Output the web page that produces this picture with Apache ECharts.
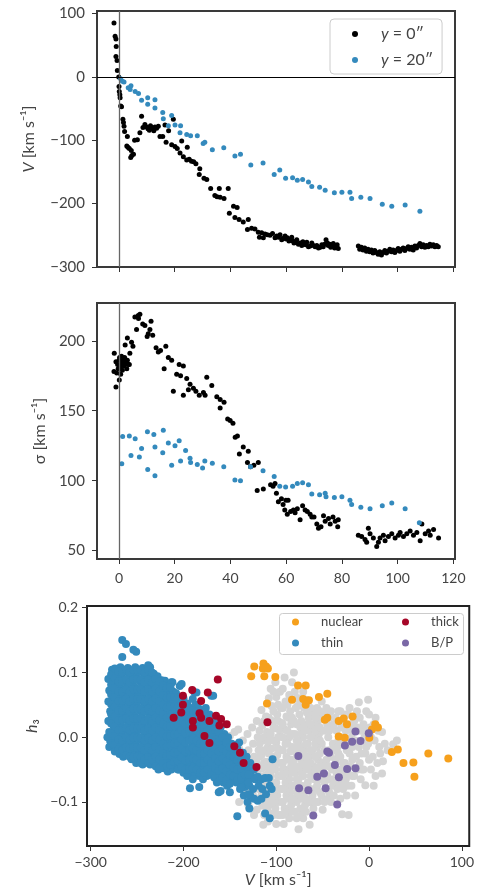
<!DOCTYPE html>
<html><head><meta charset="utf-8">
<script src="https://cdn.jsdelivr.net/npm/echarts@6/dist/echarts.min.js"></script>
<style>html,body{margin:0;padding:0;background:#fff}#c{width:477px;height:893px}</style>
</head><body><div id="c"></div>
<script>
// ---------- tick labels ----------
const xTicks = [0, 20, 40, 60, 80, 100, 120];
const vTicks = [-300, -200, -100, 0, 100];
const sigmaTicks = [50, 100, 150, 200];
const vBottomTicks = [-300, -200, -100, 0, 100];
const h3Ticks = [-0.1, 0, 0.1, 0.2];

// ---------- top panel: V vs x ----------
const velY0 = [
[-1.8,85],[-1.4,64],[-1.1,60],[-1.0,48],[-1.1,32],[-0.7,26],[-0.6,10],[-0.1,0],[0,-15],[0.1,-23],[0.3,-28],[0.4,-33],[0.6,-46],[0.9,-47],
[1.4,-67],[1.6,-72],[1.8,-78],[2.0,-86],[3.0,-94],[2.8,-109],[3.2,-111],[3.7,-113],[4.4,-116],[4.2,-127],[4.6,-124],[5.2,-122],[5.6,-100],
[6.6,-99],[7.5,-88],[8.1,-62],[8.6,-80],[9.3,-75],[9.9,-79],[10.4,-82],[10.9,-84],[11.3,-77],[11.7,-80],[12.2,-82],[12.9,-79],[12.5,-85],
[13.5,-81],[14.1,-78],[14.7,-94],[15.7,-94],[16.5,-76],[16.9,-103],[17.8,-85],[19.5,-67],[18.9,-107],[20.1,-110],[20.9,-113],[21.9,-120],
[22.5,-101],[23.1,-126],[24.5,-111],[24.3,-131],[25.2,-130],[26.0,-133],[26.8,-134],[27.6,-137],[29.0,-145],[28.8,-154],[30.5,-160],
[31.5,-162],[32.9,-176],[34.4,-187],[35.2,-189],[36.3,-190],[36.0,-176],[37.7,-192],[39.2,-176],[39.6,-215],[41.1,-204],[42.4,-206],
[41.6,-222],[43.1,-225],[44.6,-229],[46.4,-225],[46.1,-241],[47.6,-239],[48.8,-240],[50.0,-245],[50.4,-253],[51.2,-246],[52.4,-248],
[51.8,-254],[53.2,-249],[54.2,-250],[55.1,-247],[56.0,-254],[56.6,-251],
[57.2,-253],[57.8,-249],[58.4,-257],[58.8,-255],[59.6,-251],[60.0,-256],[60.4,-254],[61.0,-259],[61.4,-257],[62.0,-253],[62.4,-259],
[62.8,-262],[63.2,-261],[63.8,-257],[64.4,-264],[65.0,-262],[65.6,-266],[66.0,-260],[66.4,-263],[67.0,-265],[67.4,-261],[68.0,-268],
[68.6,-267],[69.2,-262],[69.8,-266],[70.4,-268],[71.0,-266],[71.6,-270],[72.2,-269],[72.8,-265],[73.3,-268],[73.8,-264],[74.3,-257],
[74.8,-262],[75.1,-266],[75.6,-264],[76.0,-269],[76.5,-266],[76.9,-263],[77.4,-270],[77.9,-268],[78.3,-265],[78.7,-271],
[85.9,-267],[86.4,-272],[87.0,-269],[87.6,-273],[88.2,-270],[88.8,-275],[89.4,-272],[90.0,-276],[90.6,-273],[91.2,-278],[91.8,-274],
[92.4,-277],[93.0,-280],[93.6,-276],[94.2,-281],[94.8,-277],[95.4,-274],[96.0,-278],[96.6,-275],[97.2,-272],[97.8,-276],[98.4,-273],
[99.0,-277],[99.6,-274],[100.2,-271],[100.8,-275],[101.4,-272],[102.0,-270],[102.6,-274],[103.2,-271],[103.8,-268],[104.4,-272],
[105.0,-269],[105.6,-273],[106.2,-267],[106.8,-270],[107.4,-266],[108.0,-263],[108.6,-268],[109.2,-265],[109.8,-269],[110.4,-266],
[111.0,-268],[111.6,-264],[112.2,-267],[112.8,-265],[113.4,-268],[114.0,-266],[114.6,-268]
];
const velY20 = [
[0.6,-3],[1.2,-7],[1.8,-8],[3.3,-17],[4.3,-14],[4.0,-20],[5.8,-23],[7.0,-26],[8.1,-37],[10.3,-33],[10.3,-43],[12.9,-36],[12.9,-49],
[15.7,-56],[15.9,-66],[18.9,-61],[17.7,-77],[20.1,-76],[22.1,-77],[21.9,-88],[24.3,-91],[25.7,-93],[28.1,-93],[30.2,-105],[30.8,-103],
[33.5,-115],[37.6,-112],[41.6,-125],[43.6,-122],[47.3,-139],[51.7,-136],[55.7,-154],[57.7,-147],[59.8,-160],[62.3,-159],[64.0,-163],
[65.9,-162],[68.0,-166],[69.2,-173],[72.0,-174],[74.0,-179],[77.3,-183],[80.0,-182],[82.9,-182],[83.5,-192],[86.8,-190],[90.1,-192],
[94.5,-201],[97.9,-204],[102.7,-202],[108.0,-212]
];

// ---------- middle panel: sigma vs x ----------
const sigY0 = [
[-1.7,191],[-1.1,185],[-1.8,178],[-0.8,177],[0.1,172],[-1.1,167],[-0.5,183],[0,186],[0.4,181],[0.8,184],[1.2,179],[1.5,186],[0.2,188],
[0.9,189],[1.8,182],[2.3,185],[2.8,180],[-0.3,180],[0.6,176],[1.0,183],[2.0,188],[2.6,184],[3.3,183],[2.2,197],[3.0,202],[3.9,191],
[4.5,199],[5.0,196],[3.7,183],[3.0,186],[5.7,217],[6.9,218],[7.5,219],[6.3,208],[7.0,216],[8.5,212],[9.3,211],[11.5,214],[10.5,205],
[11.1,208],[12.1,204],[10.1,203],[13.3,195],[14.1,192],[14.9,193],[16.8,196],[16.2,180],[17.7,188],[18.9,186],[19.5,164],[21.6,183],
[23.1,182],[20.7,176],[22.1,175],[24.3,173],[23.1,161],[25.5,169],[24.9,165],[26.7,166],[27.6,164],[28.8,161],[30.3,163],[31.5,174],
[30.9,161],[33.3,168],[35.1,160],[36.3,158],[36.3,152],[37.7,156],[39.0,144],[39.9,143],[40.9,141],[41.7,131],[42.5,132],[43.2,119],
[44.6,124],[46.4,121],[46.1,113],[47.2,110],[48.4,111],[50.0,113],[49.6,93],[51.8,94],[54.4,97],[55.3,96],[56.0,98],[56.5,91],[57.2,85],
[58.3,87],[58.9,83],[59.9,86],[60.7,86],[59.5,79],[60.4,76],[61.6,78],[62.6,79],[63.2,77],[64.0,80],[65.0,72],[65.9,82],[66.8,79],
[67.6,78],[68.6,76],[69.2,74],[70.0,74],[71.0,69],[71.6,66],[72.5,67],[73.4,75],[74.0,71],[75.2,73],[75.8,69],[76.8,74],[77.6,71],
[78.5,67],[78.7,72],
[85.9,61],[87.1,60],[88.3,58],[89.5,66],[90.1,62],[88.9,56],[91.3,59],[92.5,53],[93.1,56],[93.7,59],[94.9,61],[95.5,57],[96.7,60],
[97.9,62],[99.1,59],[100.3,61],[100.9,63],[102.1,60],[103.3,62],[104.5,64],[105.7,61],[106.9,63],[108.1,57],[108.7,69],[109.9,62],
[111.1,64],[111.7,61],[112.9,65],[114.7,59]
];
const sigY20 = [
[1.0,112],[1.3,131.5],[3.7,132],[4.3,118],[5.8,130],[7.3,117],[8.1,123],[10.2,135],[10.3,108],[12.5,133],[12.9,124],[12.9,103.5],
[15.9,136],[15.7,120],[17.7,127],[18.9,111],[20.1,125],[21.6,128.5],[22.1,114],[23.9,121.5],[25.5,116],[25.7,113],[28.1,111.5],
[30.0,109],[30.8,114],[33.5,112.5],[37.6,110],[41.6,100.5],[43.6,100],[47.2,110],[51.7,107],[55.7,103],[57.7,96],[59.8,95.5],
[62.3,96],[64.0,98],[65.9,98.5],[68.0,97],[69.2,90.5],[72.0,90],[74.0,91],[74.3,88.5],[77.3,88],[80.0,88.5],[82.9,86],[83.5,83],
[86.8,81],[90.1,80],[94.5,82],[97.9,84],[102.7,80],[107.8,70]
];

// ---------- bottom panel: h3 vs V ----------
const others = [
[-152,-0.015],[-150,0.002],[-146,-0.03],[-145,0.008],[-147,-0.048],[-141,0.012],[-140,-0.018],[-139,-0.058],[-140,-0.1],
[-136,-0.005],[-135,-0.035],[-134,-0.05],[-136,-0.072],[-131,0.005],[-130,-0.02],[-129,-0.045],[-131,-0.085],[-130,-0.105],
[-126,0.015],[-125,-0.01],[-124,-0.03],[-126,-0.06],[-125,-0.09],[-124,-0.12],[-121,0.025],[-120,0.0],[-119,-0.02],[-121,-0.04],
[-120,-0.055],[-119,-0.08],[-121,-0.112],[-116,0.042],[-115,0.018],[-114,-0.005],[-116,-0.028],[-115,-0.048],[-114,-0.068],
[-116,-0.09],[-115,-0.106],[-114,-0.135],[-111,0.032],[-110,0.008],[-109,-0.015],[-111,-0.038],[-110,-0.058],[-109,-0.078],
[-111,-0.098],[-110,-0.112],[-109,-0.13],[-106,0.075],[-105,0.048],[-104,0.025],[-106,0.005],[-105,-0.018],[-104,-0.04],
[-106,-0.06],[-105,-0.08],[-104,-0.1],[-106,-0.118],[-101,0.085],[-100,0.062],[-99,0.035],[-101,0.014],[-100,-0.008],[-99,-0.028],
[-101,-0.05],[-100,-0.07],[-99,-0.09],[-101,-0.11],[-100,-0.134],[-96,0.07],[-95,0.045],[-94,0.022],[-96,0.002],[-95,-0.02],
[-94,-0.04],[-96,-0.06],[-95,-0.08],[-94,-0.1],[-96,-0.12],[-91,0.092],[-90,0.055],[-89,0.032],[-91,0.012],[-90,-0.01],[-89,-0.03],
[-91,-0.05],[-90,-0.07],[-89,-0.09],[-91,-0.11],[-92,-0.134],[-86,0.065],[-85,0.04],[-84,0.02],[-86,0.0],[-85,-0.022],[-84,-0.045],
[-86,-0.065],[-85,-0.085],[-84,-0.105],[-86,-0.125],[-81,0.1],[-80,0.07],[-79,0.045],[-81,0.025],[-80,0.005],[-79,-0.015],
[-81,-0.035],[-80,-0.055],[-79,-0.075],[-81,-0.095],[-80,-0.115],[-76,0.06],[-75,0.035],[-74,0.015],[-76,-0.005],[-75,-0.025],
[-74,-0.045],[-76,-0.065],[-75,-0.09],[-74,-0.11],[-76,-0.142],[-71,0.07],[-70,0.045],[-69,0.02],[-71,0.0],[-70,-0.02],[-69,-0.04],
[-71,-0.06],[-70,-0.085],[-69,-0.105],[-71,-0.125],[-66,0.05],[-65,0.03],[-64,0.01],[-66,-0.01],[-65,-0.03],[-64,-0.05],[-66,-0.07],
[-65,-0.1],[-64,-0.135],[-61,0.04],[-60,0.02],[-59,0.0],[-61,-0.02],[-60,-0.045],[-59,-0.065],[-61,-0.09],[-60,-0.11],[-56,0.045],
[-55,0.025],[-54,0.005],[-56,-0.015],[-55,-0.035],[-54,-0.05],[-56,-0.075],[-55,-0.1],[-51,0.055],[-50,0.03],[-49,0.01],[-51,-0.01],
[-50,-0.04],[-49,-0.065],[-51,-0.09],[-50,-0.112],[-46,0.045],[-45,0.02],[-44,0.0],[-46,-0.035],[-45,-0.06],[-44,-0.095],[-41,0.04],
[-40,0.015],[-39,-0.01],[-41,-0.03],[-40,-0.05],[-39,-0.075],[-41,-0.1],[-36,0.03],[-35,0.01],[-34,-0.015],[-36,-0.035],[-35,-0.055],
[-34,-0.08],[-31,0.04],[-30,0.015],[-29,-0.01],[-31,-0.03],[-30,-0.05],[-29,-0.07],[-31,-0.095],[-29,-0.119],[-26,0.035],[-25,0.01],
[-24,-0.02],[-26,-0.04],[-25,-0.065],[-24,-0.09],[-21,0.045],[-20,0.02],[-19,0.0],[-21,-0.025],[-20,-0.045],[-19,-0.075],[-22,-0.12],
[-16,0.025],[-15,-0.005],[-14,-0.03],[-16,-0.06],[-15,-0.09],[-11,0.054],[-10,0.03],[-9,0.01],[-11,-0.015],[-10,-0.04],[-9,-0.065],
[-6,0.02],[-5,0.0],[-4,-0.025],[-6,-0.05],[-4,-0.074],[-1,0.058],[0,0.035],[1,0.015],[-1,-0.01],[0,-0.035],[5,0.02],[6,-0.005],
[4,-0.03],[5,-0.075],[10,0.01],[11,-0.015],[9,-0.04],[14,0.008],[15,-0.037],[14,-0.056],[20,-0.02],[26,-0.011],
[-108,0.03],[-97,0.012],[-87,0.03],[-77,0.048],[-67,0.038],[-57,0.035],[-103,-0.03],[-93,-0.05],[-83,-0.035],[-73,-0.055],
[-63,-0.04],[-53,-0.025],[-113,-0.06],[-98,-0.1],[-88,-0.08],[-78,-0.1],[-68,-0.075],[-58,-0.08],[-118,-0.045],[-43,-0.02]
];
// further points of the unassigned (grey) population in its crowded core
const othersCore = [
[-118,0.01],[-118,-0.01],[-118,-0.03],[-118,-0.07],[-118,-0.095],
[-113,0.025],[-113,0.0],[-113,-0.02],[-113,-0.04],[-113,-0.08],[-113,-0.12],
[-108,0.06],[-108,-0.005],[-108,-0.025],[-108,-0.048],[-108,-0.068],[-108,-0.09],[-108,-0.105],
[-103,0.07],[-103,0.04],[-103,0.015],[-103,-0.005],[-103,-0.05],[-103,-0.07],[-103,-0.09],[-103,-0.12],
[-98,0.05],[-98,0.025],[-98,0.0],[-98,-0.018],[-98,-0.04],[-98,-0.06],[-98,-0.08],[-98,-0.12],
[-93,0.075],[-93,0.045],[-93,0.02],[-93,0.0],[-93,-0.02],[-93,-0.04],[-93,-0.06],[-93,-0.08],[-93,-0.1],[-93,-0.12],
[-88,0.05],[-88,0.01],[-88,-0.01],[-88,-0.035],[-88,-0.055],[-88,-0.095],[-88,-0.115],
[-83,0.085],[-83,0.03],[-83,0.005],[-83,-0.015],[-83,-0.055],[-83,-0.075],[-83,-0.095],[-83,-0.115],
[-78,0.06],[-78,0.02],[-78,-0.005],[-78,-0.025],[-78,-0.045],[-78,-0.065],[-78,-0.085],[-78,-0.125],
[-73,0.05],[-73,0.025],[-73,0.005],[-73,-0.015],[-73,-0.035],[-73,-0.075],[-73,-0.095],[-73,-0.12],
[-68,0.058],[-68,0.01],[-68,-0.01],[-68,-0.03],[-68,-0.05],[-68,-0.095],[-68,-0.115],
[-63,0.045],[-63,0.02],[-63,0.0],[-63,-0.02],[-63,-0.06],[-63,-0.08],[-63,-0.1],
[-58,0.03],[-58,0.01],[-58,-0.01],[-58,-0.03],[-58,-0.055],[-58,-0.1],
[-53,0.04],[-53,0.015],[-53,-0.005],[-53,-0.045],[-53,-0.065],[-53,-0.085],
[-48,0.035],[-48,-0.02],[-48,-0.045],[-48,-0.07],[-48,-0.1],
[-43,0.03],[-43,0.01],[-43,-0.045],[-43,-0.065],[-43,-0.085],
[-38,0.02],[-38,-0.02],[-38,-0.045],[-38,-0.065],[-38,-0.09],
[-33,0.04],[-33,-0.005],[-33,-0.025],[-33,-0.07],
[-28,0.02],[-28,0.0],[-28,-0.04],[-28,-0.06],[-28,-0.08],
[-23,0.035],[-23,-0.005],[-23,-0.055],[-23,-0.075],
[-18,0.01],[-18,-0.015],[-18,-0.035],[-18,-0.06],
[-13,0.04],[-13,0.015],[-13,-0.05],
[-8,-0.025],[-8,-0.05],[-3,0.04],[-3,0.01],[-3,-0.015],[2,0.0],[2,-0.05],[7,0.03],[7,-0.06],[12,-0.025],[17,-0.01],[30,-0.005]
];
const thin = [
[-281,0.09],[-280,0.072],[-281,0.055],[-279,0.04],[-281,0.025],[-280,0.008],[-279,-0.006],[-282,0.0],[-280,-0.015],
[-277,0.104],[-276,0.088],[-277,0.074],[-275,0.06],[-276,0.046],[-277,0.031],[-275,0.016],[-276,0.0],[-275,-0.014],
[-272,0.098],[-273,0.083],[-271,0.069],[-272,0.055],[-273,0.039],[-271,0.024],[-272,0.01],[-273,-0.006],[-271,-0.02],
[-268,0.108],[-267,0.094],[-269,0.078],[-268,0.063],[-267,0.049],[-269,0.033],[-268,0.018],[-267,0.003],[-268,-0.012],[-269,-0.026],
[-264,0.101],[-263,0.086],[-265,0.071],[-264,0.057],[-263,0.041],[-265,0.027],[-264,0.011],[-263,-0.004],[-264,-0.018],[-265,-0.03],
[-260,0.107],[-259,0.092],[-261,0.078],[-260,0.064],[-259,0.048],[-261,0.034],[-260,0.018],[-259,0.003],[-260,-0.012],[-261,-0.025],
[-256,0.1],[-255,0.085],[-257,0.07],[-256,0.055],[-255,0.04],[-257,0.025],[-256,0.01],[-255,-0.005],[-256,-0.02],[-256,-0.034],
[-252,0.108],[-251,0.093],[-253,0.078],[-252,0.063],[-251,0.048],[-253,0.033],[-252,0.018],[-251,0.003],[-252,-0.012],[-253,-0.027],[-251,-0.04],
[-248,0.101],[-247,0.086],[-249,0.071],[-248,0.056],[-247,0.041],[-249,0.026],[-248,0.011],[-247,-0.004],[-248,-0.019],[-249,-0.033],
[-244,0.107],[-243,0.092],[-245,0.077],[-244,0.062],[-243,0.047],[-245,0.032],[-244,0.017],[-243,0.002],[-244,-0.013],[-245,-0.028],[-244,-0.042],
[-240,0.1],[-239,0.085],[-241,0.07],[-240,0.055],[-239,0.04],[-241,0.025],[-240,0.01],[-239,-0.005],[-240,-0.02],[-241,-0.035],
[-236,0.108],[-235,0.092],[-237,0.077],[-236,0.062],[-235,0.047],[-237,0.032],[-236,0.017],[-235,0.002],[-236,-0.013],[-237,-0.028],[-236,-0.042],
[-232,0.098],[-231,0.083],[-233,0.068],[-232,0.053],[-231,0.038],[-233,0.023],[-232,0.008],[-231,-0.007],[-232,-0.022],[-233,-0.036],
[-228,0.094],[-227,0.079],[-229,0.064],[-228,0.049],[-227,0.034],[-229,0.019],[-228,0.004],[-227,-0.011],[-228,-0.026],[-229,-0.04],[-227,-0.05],
[-224,0.088],[-223,0.073],[-225,0.058],[-224,0.043],[-223,0.028],[-225,0.013],[-224,-0.002],[-223,-0.017],[-224,-0.032],[-225,-0.046],
[-220,0.087],[-219,0.072],[-221,0.057],[-220,0.042],[-219,0.027],[-221,0.012],[-220,-0.003],[-219,-0.018],[-220,-0.033],[-221,-0.048],
[-216,0.08],[-215,0.065],[-217,0.05],[-216,0.035],[-215,0.02],[-217,0.005],[-216,-0.01],[-215,-0.025],[-216,-0.04],[-217,-0.053],
[-212,0.085],[-211,0.07],[-213,0.055],[-212,0.04],[-211,0.025],[-213,0.01],[-212,-0.005],[-211,-0.02],[-212,-0.035],[-213,-0.05],
[-208,0.068],[-207,0.054],[-209,0.04],[-208,0.026],[-207,0.012],[-209,-0.002],[-208,-0.016],[-207,-0.03],[-208,-0.044],
[-204,0.079],[-203,0.062],[-205,0.048],[-204,0.034],[-203,0.02],[-205,0.006],[-204,-0.008],[-203,-0.022],[-204,-0.036],[-205,-0.05],
[-200,0.06],[-199,0.045],[-201,0.03],[-200,0.016],[-199,0.002],[-201,-0.012],[-200,-0.026],[-199,-0.04],[-200,-0.055],
[-196,0.052],[-195,0.038],[-197,0.024],[-196,0.01],[-195,-0.004],[-197,-0.018],[-196,-0.032],[-195,-0.046],[-196,-0.06],
[-192,0.045],[-191,0.03],[-193,0.015],[-192,0.0],[-191,-0.015],[-193,-0.03],[-192,-0.045],[-191,-0.06],[-193,-0.079],
[-188,0.069],[-187,0.05],[-189,0.035],[-188,0.02],[-187,0.005],[-189,-0.01],[-188,-0.025],[-187,-0.04],[-188,-0.055],
[-184,0.045],[-183,0.03],[-185,0.015],[-184,0.0],[-183,-0.015],[-185,-0.03],[-184,-0.045],[-183,-0.06],[-183,-0.077],
[-180,0.04],[-179,0.025],[-181,0.01],[-180,-0.005],[-179,-0.02],[-181,-0.035],[-180,-0.05],[-179,-0.065],
[-176,0.045],[-175,0.03],[-177,0.015],[-176,0.0],[-175,-0.015],[-177,-0.03],[-176,-0.045],[-175,-0.06],
[-172,0.035],[-171,0.02],[-173,0.005],[-172,-0.01],[-171,-0.025],[-173,-0.04],[-172,-0.058],
[-168,0.064],[-167,0.03],[-169,0.013],[-168,-0.002],[-167,-0.017],[-169,-0.032],[-168,-0.047],[-167,-0.062],
[-164,0.02],[-163,0.005],[-165,-0.01],[-164,-0.025],[-163,-0.04],[-165,-0.055],[-164,-0.07],[-162,-0.085],
[-160,0.015],[-159,0.0],[-161,-0.015],[-160,-0.03],[-159,-0.045],[-161,-0.061],[-160,-0.083],
[-156,0.005],[-155,-0.01],[-157,-0.025],[-156,-0.04],[-155,-0.055],[-157,-0.07],
[-152,0.0],[-151,-0.015],[-153,-0.03],[-152,-0.045],[-151,-0.06],[-153,-0.075],
[-148,-0.01],[-147,-0.02],[-149,-0.035],[-148,-0.05],[-147,-0.065],[-150,-0.085],
[-144,-0.012],[-143,-0.025],[-145,-0.04],[-144,-0.055],[-143,-0.07],
[-140,-0.008],[-139,-0.03],[-141,-0.045],[-140,-0.063],[-139,-0.08],[-142,-0.122],
[-136,-0.024],[-135,-0.04],[-137,-0.055],[-136,-0.07],[-135,-0.09],
[-132,-0.03],[-131,-0.05],[-133,-0.065],[-134,-0.077],[-131,-0.1],
[-128,-0.04],[-127,-0.06],[-129,-0.075],[-128,-0.09],[-129,-0.11],
[-124,-0.05],[-123,-0.065],[-125,-0.08],[-124,-0.095],
[-120,-0.061],[-119,-0.075],[-120,-0.098],[-116,-0.065],[-115,-0.08],[-116,-0.095],
[-112,-0.063],[-111,-0.088],[-112,-0.118],[-108,-0.063],[-107,-0.075],[-107,-0.125],[-104,-0.034],[-105,-0.08],
[-266,0.15],[-262,0.144],[-251,0.132],[-266,0.124],[-254,0.135],[-238,0.111],[-222,0.087],[-213,0.085],[-209,0.054],
[-190,0.059],[-186,0.069],[-170,0.064],[-202,0.082]
];
// further thin-disc points in the crowded core of the cloud
const thinCore = [
[-278,0.097],[-278,0.081],[-278,0.066],[-278,0.051],[-278,0.036],[-278,0.021],[-278,0.006],[-278,-0.009],
[-274,0.106],[-274,0.091],[-274,0.076],[-274,0.062],[-274,0.047],[-274,0.032],[-274,0.017],[-274,0.002],[-274,-0.012],[-274,-0.022],
[-270,0.101],[-270,0.086],[-270,0.071],[-270,0.056],[-270,0.041],[-270,0.026],[-270,0.011],[-270,-0.004],[-270,-0.019],
[-266,0.1],[-266,0.086],[-266,0.07],[-266,0.056],[-266,0.041],[-266,0.026],[-266,0.011],[-266,-0.005],[-266,-0.02],
[-262,0.104],[-262,0.089],[-262,0.074],[-262,0.059],[-262,0.044],[-262,0.029],[-262,0.014],[-262,-0.001],[-262,-0.016],[-262,-0.028],
[-258,0.1],[-258,0.085],[-258,0.07],[-258,0.055],[-258,0.04],[-258,0.026],[-258,0.011],[-258,-0.004],[-258,-0.018],[-258,-0.03],
[-254,0.104],[-254,0.089],[-254,0.074],[-254,0.059],[-254,0.044],[-254,0.029],[-254,0.014],[-254,-0.001],[-254,-0.016],[-254,-0.031],
[-250,0.104],[-250,0.089],[-250,0.074],[-250,0.059],[-250,0.044],[-250,0.029],[-250,0.014],[-250,-0.001],[-250,-0.016],[-250,-0.03],
[-246,0.104],[-246,0.089],[-246,0.074],[-246,0.059],[-246,0.044],[-246,0.029],[-246,0.014],[-246,-0.001],[-246,-0.016],[-246,-0.031],[-246,-0.04],
[-242,0.1],[-242,0.085],[-242,0.07],[-242,0.055],[-242,0.04],[-242,0.025],[-242,0.01],[-242,-0.005],[-242,-0.02],[-242,-0.035],
[-238,0.104],[-238,0.089],[-238,0.074],[-238,0.059],[-238,0.044],[-238,0.029],[-238,0.014],[-238,-0.001],[-238,-0.016],[-238,-0.031],[-238,-0.04],
[-234,0.1],[-234,0.085],[-234,0.07],[-234,0.055],[-234,0.04],[-234,0.025],[-234,0.01],[-234,-0.005],[-234,-0.02],[-234,-0.035],
[-230,0.09],[-230,0.075],[-230,0.06],[-230,0.045],[-230,0.03],[-230,0.015],[-230,0.0],[-230,-0.015],[-230,-0.03],[-230,-0.045],
[-226,0.086],[-226,0.071],[-226,0.056],[-226,0.041],[-226,0.026],[-226,0.011],[-226,-0.004],[-226,-0.019],[-226,-0.034],[-226,-0.048],
[-222,0.08],[-222,0.065],[-222,0.05],[-222,0.035],[-222,0.02],[-222,0.005],[-222,-0.01],[-222,-0.025],[-222,-0.04],
[-218,0.076],[-218,0.061],[-218,0.046],[-218,0.031],[-218,0.016],[-218,0.001],[-218,-0.014],[-218,-0.029],[-218,-0.045],
[-214,0.077],[-214,0.062],[-214,0.047],[-214,0.032],[-214,0.017],[-214,0.002],[-214,-0.013],[-214,-0.028],[-214,-0.043],
[-210,0.062],[-210,0.047],[-210,0.032],[-210,0.018],[-210,0.004],[-210,-0.01],[-210,-0.024],[-210,-0.038],
[-206,0.061],[-206,0.047],[-206,0.033],[-206,0.019],[-206,0.005],[-206,-0.009],[-206,-0.023],[-206,-0.037],[-206,-0.05],
[-202,0.053],[-202,0.039],[-202,0.025],[-202,0.011],[-202,-0.003],[-202,-0.017],[-202,-0.031],[-202,-0.046],
[-198,0.049],[-198,0.034],[-198,0.02],[-198,0.006],[-198,-0.008],[-198,-0.022],[-198,-0.036],[-198,-0.05],
[-194,0.04],[-194,0.025],[-194,0.01],[-194,-0.005],[-194,-0.02],[-194,-0.035],[-194,-0.05],
[-190,0.042],[-190,0.027],[-190,0.012],[-190,-0.003],[-190,-0.018],[-190,-0.033],[-190,-0.048],[-190,-0.065],
[-186,0.04],[-186,0.025],[-186,0.01],[-186,-0.005],[-186,-0.02],[-186,-0.035],[-186,-0.05],
[-182,0.035],[-182,0.02],[-182,0.005],[-182,-0.01],[-182,-0.025],[-182,-0.04],[-182,-0.055],
[-178,0.035],[-178,0.02],[-178,0.005],[-178,-0.01],[-178,-0.025],[-178,-0.04],[-178,-0.055],
[-174,0.025],[-174,0.01],[-174,-0.005],[-174,-0.02],[-174,-0.035],[-174,-0.05],
[-170,0.022],[-170,0.005],[-170,-0.01],[-170,-0.025],[-170,-0.04],[-170,-0.055],
[-166,0.012],[-166,-0.003],[-166,-0.018],[-166,-0.033],[-166,-0.048],[-166,-0.063],
[-162,0.008],[-162,-0.007],[-162,-0.022],[-162,-0.037],[-162,-0.052],[-162,-0.068],
[-158,0.0],[-158,-0.018],[-158,-0.033],[-158,-0.048],[-158,-0.062],
[-154,-0.008],[-154,-0.022],[-154,-0.037],[-154,-0.052],[-154,-0.067],
[-150,-0.015],[-150,-0.028],[-150,-0.043],[-150,-0.058],[-150,-0.072],
[-146,-0.03],[-146,-0.047],[-146,-0.06],[-142,-0.018],[-142,-0.035],[-142,-0.05],[-142,-0.066],
[-138,-0.035],[-138,-0.048],[-138,-0.063],[-138,-0.078],[-134,-0.042],[-134,-0.058],[-130,-0.058],[-130,-0.07],[-130,-0.088]
];
const thick = [
[-163,0.089],[-190.6,0.073],[-200.6,0.064],[-173.8,0.069],[-181,0.056],[-200.6,0.05],[-202.4,0.038],[-210.6,0.03],[-182.7,0.037],
[-189.9,0.025],[-181,0.03],[-172,0.025],[-164.9,0.033],[-159.5,0.028],[-161.3,0.018],[-153.4,0.02],[-189.9,0.015],[-177.4,0.002],
[-172,-0.009],[-145.2,-0.014],[-139.1,-0.024],[-135.2,-0.04],[-121.3,-0.046],[-109.5,0.023]
];
const nuclear = [
[-123.7,0.109],[-127,0.094],[-113.8,0.114],[-111,0.109],[-114.5,0.106],[-109,0.106],[-112.9,0.094],[-101,0.093],[-110,0.052],
[-76.5,0.08],[-68.3,0.08],[-83,0.058],[-71,0.059],[-64.8,0.057],[-68.3,0.05],[-54,0.062],[-45,0.067],[-45,0.03],[-47.7,0.027],
[-32.7,0.025],[-27.3,0.029],[-17.7,0.032],[-23.8,0.02],[-32.7,0.001],[-26.2,-0.001],[0.3,-0.001],[3.1,0.012],[6.7,0.02],[9.6,0.015],
[24.6,-0.023],[31,-0.019],[37.1,-0.04],[47.8,-0.039],[63.9,-0.025],[85.4,-0.033],[48.9,-0.061]
];
const bp = [
[-14.6,0.009],[-0.3,0.006],[-18.2,-0.007],[-9.2,-0.006],[-26,-0.013],[-45,-0.022],[-43.2,-0.024],[-76.2,-0.029],[-36.8,-0.043],
[-23.6,-0.049],[-14.6,-0.048],[-48.6,-0.056],[-55.8,-0.061],[-32.5,-0.062],[-75.4,-0.079],[-65.4,-0.082],[-46.8,-0.079],
[-34.3,-0.104],[-60.1,-0.121]
];

// ---------- styling ----------
const FONT = 'Lato';
const TXT = '#444';
const BLUE = '#348ABD';
const minusFmt = v => String(v).replace('-', '\u2212');
const oneDec = v => (Math.abs(v) < 1e-9 ? '0.0' : v.toFixed(1)).replace('-', '\u2212');

function axis(extra, ticks, fmt, showLabel, margin, fs) {
  return Object.assign({
    type: 'value',
    axisLine: { show: false, onZero: false },
    axisTick: { show: true, inside: false, length: 5, lineStyle: { color: '#333', width: 1 }, customValues: ticks },
    axisLabel: { show: showLabel, customValues: ticks, formatter: fmt, color: TXT, fontFamily: FONT, fontSize: fs || 14, margin: margin },
    splitLine: { show: false }
  }, extra);
}
const nameStyle = { fontFamily: FONT, fontSize: 16, color: TXT, rich: { i: { fontStyle: 'italic', fontFamily: FONT, fontSize: 16, color: TXT } } };
const gridStyle = { show: true, borderColor: '#3a3a3a', borderWidth: 2, backgroundColor: 'transparent' };
const pt = (c) => ({ color: c, opacity: 1, borderWidth: 0 });
const BS = 8;

const chart = echarts.init(document.getElementById('c'), null, { renderer: 'canvas' });
chart.setOption({
  animation: false,
  backgroundColor: '#fff',
  grid: [
    Object.assign({ left: 97, top: 11, width: 358, height: 256 }, gridStyle),
    Object.assign({ left: 97, top: 303, width: 358, height: 256 }, gridStyle),
    Object.assign({ left: 87, top: 606, width: 384, height: 240 }, gridStyle, { borderColor: '#222' })
  ],
  xAxis: [
    axis({ gridIndex: 0, min: -7.9, max: 120.6 }, xTicks, minusFmt, false, 10),
    axis({ gridIndex: 1, min: -7.9, max: 120.6 }, xTicks, minusFmt, true, 12),
    axis({ gridIndex: 2, min: -304, max: 108, name: '{i|V} [km s\u207B\u00B9]', nameLocation: 'middle', nameGap: 26, nameTextStyle: nameStyle },
      vBottomTicks, minusFmt, true, 9, 14)
  ],
  yAxis: [
    axis({ gridIndex: 0, min: -300, max: 104, name: '{i|V} [km s\u207B\u00B9]', nameLocation: 'middle', nameGap: 60, nameTextStyle: nameStyle },
      vTicks, minusFmt, true, 12, 15),
    axis({ gridIndex: 1, min: 44, max: 227, name: '\u03C3 [km s\u207B\u00B9]', nameLocation: 'middle', nameGap: 45, nameTextStyle: nameStyle },
      sigmaTicks, minusFmt, true, 12, 15),
    axis({ gridIndex: 2, min: -0.168, max: 0.2026, name: '{i|h}\u2083', nameLocation: 'middle', nameGap: 45, nameTextStyle: nameStyle },
      h3Ticks, oneDec, true, 9, 14)
  ],
  legend: [
    {
      data: ['y = 0\u2033', 'y = 20\u2033'], left: 330, top: 19, orient: 'vertical', padding: [5, 9, 4, 22],
      itemWidth: 6, itemHeight: 6, itemGap: 6, icon: 'circle', selectedMode: false,
      backgroundColor: 'rgba(255,255,255,0.8)', borderColor: '#cccccc', borderWidth: 1, borderRadius: 4,
      textStyle: { fontFamily: FONT, fontSize: 16, color: TXT, lineHeight: 20, padding: [0, 0, 0, 18],
        rich: { i: { fontStyle: 'italic', fontFamily: FONT, fontSize: 16, color: TXT } } },
      formatter: n => n.replace(/^y/, '{i|y}')
    },
    {
      data: ['nuclear', 'thin'], left: 292, top: 614, orient: 'vertical', padding: 0,
      itemWidth: 7, itemHeight: 7, itemGap: 5, icon: 'circle', selectedMode: false,
      textStyle: { fontFamily: FONT, fontSize: 13, color: TXT, lineHeight: 16, padding: [0, 0, 0, 17] }
    },
    {
      data: ['thick', 'B/P'], left: 402, top: 614, orient: 'vertical', padding: 0,
      itemWidth: 7, itemHeight: 7, itemGap: 5, icon: 'circle', selectedMode: false,
      textStyle: { fontFamily: FONT, fontSize: 13, color: TXT, lineHeight: 16, padding: [0, 0, 0, 17] }
    }
  ],
  graphic: [
    { type: 'rect', left: 279, top: 613, z: 3, silent: true,
      shape: { width: 184, height: 41, r: 3 },
      style: { fill: 'rgba(255,255,255,0.85)', stroke: '#cccccc', lineWidth: 1 } }
  ],
  series: [
    { type: 'scatter', name: 'y = 0\u2033', xAxisIndex: 0, yAxisIndex: 0, data: velY0, symbolSize: 5,
      itemStyle: pt('#000'),
      markLine: { silent: true, symbol: 'none', label: { show: false },
        data: [ { xAxis: 0, lineStyle: { color: '#666', width: 1.3, type: 'solid' } },
                { yAxis: 0, lineStyle: { color: '#000', width: 1, type: 'solid' } } ] } },
    { type: 'scatter', name: 'y = 20\u2033', xAxisIndex: 0, yAxisIndex: 0, data: velY20, symbolSize: 5,
      itemStyle: pt(BLUE) },
    { type: 'scatter', name: 'sigma y0', xAxisIndex: 1, yAxisIndex: 1, data: sigY0, symbolSize: 5,
      itemStyle: pt('#000'),
      markLine: { silent: true, symbol: 'none', label: { show: false },
        data: [ { xAxis: 0, lineStyle: { color: '#666', width: 1.3, type: 'solid' } } ] } },
    { type: 'scatter', name: 'sigma y20', xAxisIndex: 1, yAxisIndex: 1, data: sigY20, symbolSize: 5,
      itemStyle: pt(BLUE) },
    { type: 'scatter', name: 'other', xAxisIndex: 2, yAxisIndex: 2, data: others.concat(othersCore), symbolSize: BS, itemStyle: pt('#D4D4D4') },
    { type: 'scatter', name: 'thin', xAxisIndex: 2, yAxisIndex: 2, data: thin.concat(thinCore), symbolSize: BS, itemStyle: pt(BLUE) },
    { type: 'scatter', name: 'thick', xAxisIndex: 2, yAxisIndex: 2, data: thick, symbolSize: BS, itemStyle: pt('#A60628') },
    { type: 'scatter', name: 'nuclear', xAxisIndex: 2, yAxisIndex: 2, data: nuclear, symbolSize: BS, itemStyle: pt('#F6A01C') },
    { type: 'scatter', name: 'B/P', xAxisIndex: 2, yAxisIndex: 2, data: bp, symbolSize: BS, itemStyle: pt('#7A68A6') }
  ]
});
</script>
</body></html>
